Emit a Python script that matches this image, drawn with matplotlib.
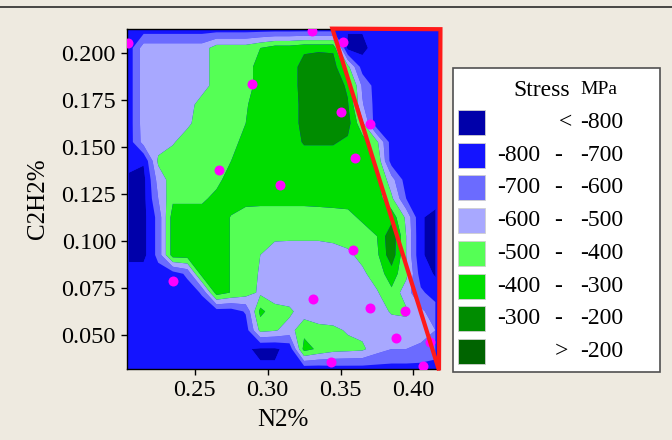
import numpy as np
import matplotlib
matplotlib.use("Agg")
import matplotlib.pyplot as plt
from matplotlib.patches import Rectangle, Polygon
from matplotlib.ticker import FixedLocator, FormatStrFormatter

# ---------------- data ----------------
# sample positions of the stress field (N2 %, C2H2 %)
n2_grid = [0.205, 0.215, 0.225, 0.235, 0.245, 0.255, 0.265, 0.275, 0.285, 0.295, 0.305,
           0.315, 0.325, 0.335, 0.345, 0.355, 0.365, 0.375, 0.385, 0.395, 0.405, 0.415]
c2h2_grid = [0.2125, 0.2025, 0.1925, 0.1825, 0.1725, 0.1625, 0.1525, 0.1425, 0.1325, 0.1225,
             0.1125, 0.1025, 0.0925, 0.0825, 0.0725, 0.0625, 0.0525, 0.0425, 0.0325]

stress = [
    [-750, -750, -750, -750, -750, -750, -750, -750, -750, -750, -750, -750, -750, -750, -750, -790, -790, -750, -750, -750, -750, -750],
    [-750, -550, -550, -550, -550, -550, -450, -450, -450, -400, -350, -350, -320, -320, -320, -830, -830, -750, -750, -750, -750, -750],
    [-750, -550, -550, -550, -550, -550, -450, -450, -450, -350, -350, -350, -260, -230, -250, -470, -750, -750, -750, -750, -750, -750],
    [-750, -550, -550, -550, -550, -550, -450, -450, -450, -350, -350, -350, -260, -230, -230, -320, -620, -750, -750, -750, -750, -750],
    [-750, -550, -550, -550, -550, -450, -450, -450, -410, -350, -350, -350, -270, -230, -230, -290, -590, -750, -750, -750, -750, -750],
    [-750, -550, -550, -550, -520, -450, -450, -450, -400, -350, -350, -350, -270, -230, -230, -260, -480, -780, -750, -750, -750, -750],
    [-750, -560, -550, -510, -450, -450, -450, -450, -350, -350, -350, -350, -290, -290, -290, -320, -350, -480, -750, -750, -750, -750],
    [-750, -790, -480, -450, -450, -450, -450, -400, -350, -350, -350, -350, -350, -350, -350, -350, -350, -420, -750, -750, -750, -750],
    [-830, -830, -560, -450, -450, -450, -430, -350, -350, -350, -350, -350, -350, -350, -350, -350, -350, -380, -560, -750, -750, -750],
    [-830, -830, -600, -420, -420, -420, -370, -360, -360, -360, -360, -360, -360, -360, -360, -360, -360, -350, -480, -700, -750, -760],
    [-830, -830, -665, -350, -350, -350, -350, -405, -450, -460, -460, -460, -460, -450, -440, -430, -380, -350, -340, -520, -790, -830],
    [-830, -830, -665, -350, -350, -350, -350, -405, -460, -470, -480, -480, -480, -480, -470, -460, -450, -400, -220, -500, -790, -830],
    [-830, -830, -665, -350, -350, -350, -350, -405, -450, -500, -550, -560, -560, -560, -550, -520, -470, -420, -230, -500, -790, -830],
    [-750, -750, -750, -750, -680, -350, -350, -405, -450, -510, -560, -570, -570, -570, -570, -560, -520, -450, -350, -470, -750, -810],
    [-750, -750, -750, -750, -750, -690, -350, -405, -450, -520, -560, -560, -570, -570, -570, -570, -560, -510, -420, -560, -680, -750],
    [-750, -750, -750, -750, -750, -750, -750, -750, -690, -370, -460, -480, -550, -560, -560, -560, -560, -540, -490, -480, -580, -650],
    [-750, -750, -750, -750, -750, -750, -750, -750, -750, -470, -490, -540, -430, -470, -480, -510, -530, -550, -550, -550, -560, -600],
    [-750, -750, -750, -750, -750, -750, -750, -750, -790, -815, -815, -770, -360, -420, -460, -470, -480, -560, -600, -600, -620, -650],
    [-750, -750, -750, -750, -750, -750, -750, -750, -750, -790, -790, -760, -740, -740, -730, -730, -730, -730, -730, -730, -730, -740],
]

# measured design points
pts_n2 = [0.2045, 0.3307, 0.3519, 0.2895, 0.3501, 0.3702, 0.3599, 0.2665, 0.3085,
          0.3584, 0.2349, 0.3309, 0.3702, 0.3942, 0.3881, 0.4114, 0.3433, 0.4064]
pts_c2h2 = [0.2053, 0.2117, 0.2055, 0.1832, 0.1683, 0.1620, 0.1439, 0.1377, 0.1297,
            0.0952, 0.0787, 0.0690, 0.0645, 0.0628, 0.0486, 0.0464, 0.0358, 0.0337]

# highlighted region (red outline)
region_n2 = [0.3444, 0.4185, 0.4175]
region_c2h2 = [0.2128, 0.2125, 0.0312]

# contour levels and legend
levels = [-800, -700, -600, -500, -400, -300, -200]
level_colors = ['#0000AA', '#1414FF', '#6B6BFF', '#A8A8FF',
                '#55FF55', '#00DD00', '#008C00', '#006400']
x_ticks = [0.25, 0.30, 0.35, 0.40]
y_ticks = [0.050, 0.075, 0.100, 0.125, 0.150, 0.175, 0.200]

# ---------------- figure ----------------
FONT = ['Liberation Serif', 'DejaVu Serif']
plt.rcParams['font.family'] = FONT
BG = '#EEEAE0'

fig = plt.figure(figsize=(6.72, 4.40), dpi=100, facecolor=BG)

# thin rule at the top of the image
fig.add_artist(plt.Line2D([0, 1], [1 - 7.5 / 440, 1 - 7.5 / 440], transform=fig.transFigure,
                          color='#1a1a1a', lw=1.1))

ax = fig.add_axes([127 / 672, (440 - 369) / 440, (439 - 127) / 672, (369 - 29) / 440])
ax.set_facecolor(level_colors[1])

X, Y = np.meshgrid(np.array(n2_grid), np.array(c2h2_grid))
Z = np.array(stress, dtype=float)
bounds = [-1e4] + levels + [1e4]
ax.contourf(X, Y, Z, levels=bounds, colors=level_colors, antialiased=True)

ax.plot(pts_n2, pts_c2h2, linestyle='none', marker='o', markersize=7.2,
        markerfacecolor='#FF00FF', markeredgewidth=0, zorder=4)

ax.set_xlim(0.2036, 0.4175)
ax.set_ylim(0.0319, 0.2126)

tri = Polygon(list(zip(region_n2, region_c2h2)), closed=True, fill=False,
              edgecolor='#FF1A1A', lw=3.0, joinstyle='miter', clip_on=False, zorder=6)
ax.add_patch(tri)

ax.xaxis.set_major_locator(FixedLocator(x_ticks))
ax.yaxis.set_major_locator(FixedLocator(y_ticks))
ax.xaxis.set_major_formatter(FormatStrFormatter('%.2f'))
ax.yaxis.set_major_formatter(FormatStrFormatter('%.3f'))
ax.tick_params(direction='out', length=4, width=1, labelsize=17.5, color='black', pad=4)
for s in ax.spines.values():
    s.set_color('black')
    s.set_linewidth(1.0)
ax.set_xlabel('N2%', fontsize=18, labelpad=6)
ax.set_ylabel('C2H2%', fontsize=18, labelpad=9)

# ---------------- legend ----------------
lax = fig.add_axes([453 / 672, (440 - 372) / 440, 207 / 672, 304 / 440])
lax.set_xlim(0, 207)
lax.set_ylim(304, 0)
lax.axis('off')
lax.add_patch(Rectangle((0, 0), 207, 304, facecolor='white', edgecolor='#505050', lw=1.2,
                        clip_on=False))
lax.text(60, 22, 'Stress', fontsize=17, ha='left', va='center')
lax.text(127, 22, 'MPa', fontsize=14, ha='left', va='center')
n = len(level_colors)
for i, col in enumerate(level_colors):
    cy = 54.3 + 32.75 * i
    lax.add_patch(Rectangle((5, cy - 12.5), 27, 25, facecolor=col, edgecolor='#cfcfcf', lw=0.6))
    if i == 0:
        lax.text(112, cy, '<', fontsize=17, ha='center', va='center')
        lax.text(127, cy, f'{levels[0]}', fontsize=17, ha='left', va='center')
    elif i == n - 1:
        lax.text(108, cy, '>', fontsize=17, ha='center', va='center')
        lax.text(127, cy, f'{levels[-1]}', fontsize=17, ha='left', va='center')
    else:
        lax.text(87, cy, f'{levels[i - 1]}', fontsize=17, ha='right', va='center')
        lax.text(105, cy, '-', fontsize=17, ha='center', va='center')
        lax.text(127, cy, f'{levels[i]}', fontsize=17, ha='left', va='center')

fig.savefig('out.png', dpi=100, facecolor=BG)
